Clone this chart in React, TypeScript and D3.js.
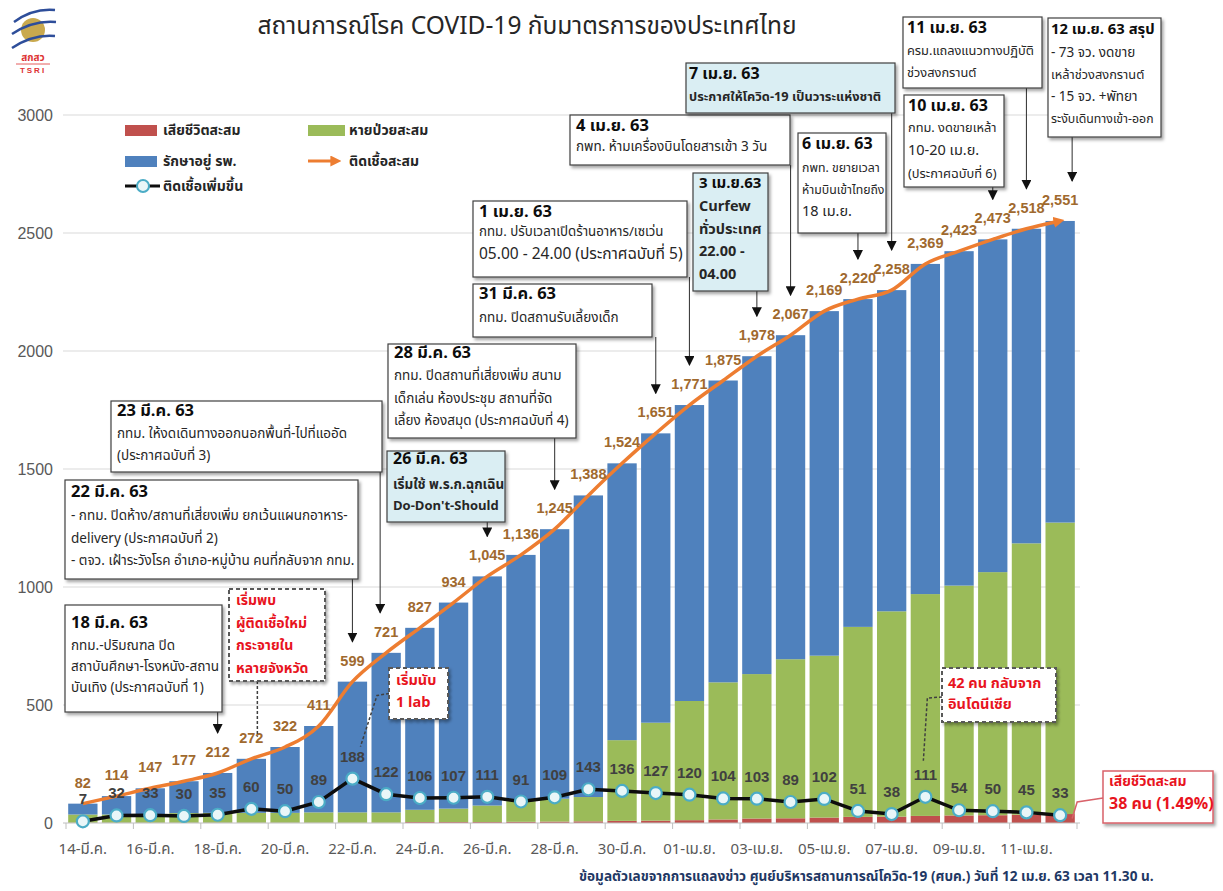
import React from 'react';
import * as d3 from 'd3';

const dates = [
  '14-มี.ค.', '15-มี.ค.', '16-มี.ค.', '17-มี.ค.', '18-มี.ค.', '19-มี.ค.', '20-มี.ค.', '21-มี.ค.',
  '22-มี.ค.', '23-มี.ค.', '24-มี.ค.', '25-มี.ค.', '26-มี.ค.', '27-มี.ค.', '28-มี.ค.', '29-มี.ค.',
  '30-มี.ค.', '31-มี.ค.', '01-เม.ย.', '02-เม.ย.', '03-เม.ย.', '04-เม.ย.', '05-เม.ย.', '06-เม.ย.',
  '07-เม.ย.', '08-เม.ย.', '09-เม.ย.', '10-เม.ย.', '11-เม.ย.', '12-เม.ย.',
];

// ติดเชื้อสะสม
const totalCases = [
  82, 114, 147, 177, 212, 272, 322, 411, 599, 721, 827, 934, 1045, 1136, 1245, 1388,
  1524, 1651, 1771, 1875, 1978, 2067, 2169, 2220, 2258, 2369, 2423, 2473, 2518, 2551,
];
// ติดเชื้อเพิ่มขึ้น
const newCases = [
  7, 32, 33, 30, 35, 60, 50, 89, 188, 122, 106, 107, 111, 91, 109, 143,
  136, 127, 120, 104, 103, 89, 102, 51, 38, 111, 54, 50, 45, 33,
];
// หายป่วยสะสม
const recovered = [
  35, 35, 36, 41, 42, 42, 42, 44, 44, 44, 52, 57, 70, 88, 97, 103,
  342, 415, 505, 581, 612, 674, 686, 805, 870, 940, 974, 1030, 1150, 1235,
];
// เสียชีวิตสะสม
const deaths = [
  1, 1, 1, 1, 1, 1, 1, 1, 1, 1, 4, 4, 4, 5, 6, 7,
  9, 10, 12, 15, 19, 20, 23, 26, 27, 30, 32, 33, 35, 38,
];

const yTicks = [0, 500, 1000, 1500, 2000, 2500, 3000];

const notes = [
  { date: '18-มี.ค.', title: '18 มี.ค. 63', lines: ['กทม.-ปริมณฑล ปิด', 'สถาบันศึกษา-โรงหนัง-สถาน', 'บันเทิง (ประกาศฉบับที่ 1)'] },
  { date: '22-มี.ค.', title: '22 มี.ค. 63', lines: ['- กทม. ปิดห้าง/สถานที่เสี่ยงเพิ่ม ยกเว้นแผนกอาหาร-', 'delivery (ประกาศฉบับที่ 2)', '- ตจว. เฝ้าระวังโรค อำเภอ-หมู่บ้าน คนที่กลับจาก กทม.'] },
  { date: '23-มี.ค.', title: '23 มี.ค. 63', lines: ['กทม. ให้งดเดินทางออกนอกพื้นที่-ไปที่แออัด', '(ประกาศฉบับที่ 3)'] },
  { date: '26-มี.ค.', title: '26 มี.ค. 63', lines: ['เริ่มใช้ พ.ร.ก.ฉุกเฉิน', "Do-Don't-Should"] },
  { date: '28-มี.ค.', title: '28 มี.ค. 63', lines: ['กทม. ปิดสถานที่เสี่ยงเพิ่ม สนาม', 'เด็กเล่น ห้องประชุม สถานที่จัด', 'เลี้ยง ห้องสมุด (ประกาศฉบับที่ 4)'] },
  { date: '31-มี.ค.', title: '31 มี.ค. 63', lines: ['กทม. ปิดสถานรับเลี้ยงเด็ก'] },
  { date: '01-เม.ย.', title: '1 เม.ย. 63', lines: ['กทม. ปรับเวลาเปิดร้านอาหาร/เซเว่น', '05.00 - 24.00 (ประกาศฉบับที่ 5)'] },
  { date: '03-เม.ย.', title: '3 เม.ย.63', lines: ['Curfew', 'ทั่วประเทศ', '22.00 -', '04.00'] },
  { date: '04-เม.ย.', title: '4 เม.ย. 63', lines: ['กพท. ห้ามเครื่องบินโดยสารเข้า 3 วัน'] },
  { date: '06-เม.ย.', title: '6 เม.ย. 63', lines: ['กพท. ขยายเวลา', 'ห้ามบินเข้าไทยถึง', '18 เม.ย.'] },
  { date: '07-เม.ย.', title: '7 เม.ย. 63', lines: ['ประกาศให้โควิด-19 เป็นวาระแห่งชาติ'] },
  { date: '10-เม.ย.', title: '10 เม.ย. 63', lines: ['กทม. งดขายเหล้า', '10-20 เม.ย.', '(ประกาศฉบับที่ 6)'] },
  { date: '11-เม.ย.', title: '11 เม.ย. 63', lines: ['ครม.แถลงแนวทางปฏิบัติ', 'ช่วงสงกรานต์'] },
  { date: '12-เม.ย.', title: '12 เม.ย. 63 สรุป', lines: ['- 73 จว. งดขาย', 'เหล้าช่วงสงกรานต์', '- 15 จว. +พัทยา', 'ระงับเดินทางเข้า-ออก'] },
];

const redNotes = [
  { date: '19-มี.ค.', lines: ['เริ่มพบ', 'ผู้ติดเชื้อใหม่', 'กระจายใน', 'หลายจังหวัด'] },
  { date: '22-มี.ค.', lines: ['เริ่มนับ', '1 lab'] },
  { date: '08-เม.ย.', lines: ['42 คน กลับจาก', 'อินโดนีเซีย'] },
];
const deathNote = ['เสียชีวิตสะสม', '38 คน (1.49%)'];

// box layout (same order as notes); bs = body font size (number or one per line)
const noteLayout: any[] = [
  { x: 65, y: 605, w: 157, h: 107, tb: 628, bb: 650, lh: 21, ts: 16.5, bs: 13.5 },
  { x: 65, y: 480, w: 293, h: 99, tb: 497, bb: 520, lh: 22.5, ts: 16.5, bs: 13.5 },
  { x: 111, y: 401, w: 271, h: 71, tb: 416, bb: 438, lh: 22, ts: 16.5, bs: 13.5, dx: -6 },
  { x: 387, y: 451, w: 118, h: 71, tb: 464, bb: 489, lh: 21, ts: 16, bs: [13.5, 13], blue: true, boldBody: true },
  { x: 388, y: 344, w: 188, h: 94, tb: 358, bb: 380, lh: 22.5, ts: 16.5, bs: 13.5 },
  { x: 473, y: 284, w: 179, h: 53, tb: 299, bb: 322, lh: 22, ts: 16.5, bs: 13.5 },
  { x: 473, y: 201, w: 214, h: 76, tb: 217, bb: 236, lh: 23, ts: 16.5, bs: [13.3, 15.5] },
  { x: 693, y: 173, w: 75, h: 118, tb: 188, bb: 211, lh: 22.5, ts: 15, bs: 14.5, blue: true, boldBody: true },
  { x: 570, y: 115, w: 220, h: 50, tb: 131, bb: 151, lh: 22, ts: 16.5, bs: 13.5 },
  { x: 798, y: 133, w: 88, h: 100, tb: 149, bb: 172, lh: 22, ts: 16, bs: [12.3, 12.3, 14.5], pad: 4 },
  { x: 686, y: 63, w: 209, h: 50, tb: 79, bb: 101, lh: 22, ts: 16, bs: 12.8, blue: true, boldBody: true, pad: 3 },
  { x: 904, y: 95, w: 100, h: 92, tb: 111, bb: 132, lh: 23, ts: 16, bs: [12.8, 14.5, 12.8], pad: 4 },
  { x: 903, y: 17, w: 139, h: 71, tb: 33, bb: 55, lh: 22, ts: 16, bs: 12.8, pad: 4 },
  { x: 1048, y: 18, w: 113, h: 119, tb: 34, bb: 57, lh: 22, ts: 14.8, bs: [13.5, 12.8, 13.5, 12.3], dx: 12, pad: 3 },
];
const redLayout = [
  { x: 229, y: 589, w: 96, h: 92, tx: 236, tb: 605, lh: 22.5, fs: 14 },
  { x: 389, y: 668, w: 59, h: 51, tx: 396, tb: 685, lh: 22, fs: 14.5 },
  { x: 942, y: 668, w: 114, h: 54, tx: 948, tb: 688, lh: 21, fs: 14.5 },
];

const FONT = "Tahoma, 'Leelawadee UI', 'Noto Sans Thai', 'Liberation Sans', Arial, sans-serif";
const LATIN = "'Liberation Sans', Arial, sans-serif";
const RED = '#e8141e';

const x = d3.scaleBand<string>().domain(dates).range([66, 1077]).paddingInner(0.13).paddingOuter(0.065);
const y = d3.scaleLinear().domain([0, 3000]).range([823, 115]);
const cx = (d: string) => (x(d) ?? 0) + x.bandwidth() / 2;
const idx = (d: string) => dates.indexOf(d);

const rows = dates.map((d, i) => ({
  date: d,
  deaths: deaths[i],
  recovered: recovered[i],
  active: totalCases[i] - recovered[i] - deaths[i],
}));
const series = d3.stack<any>().keys(['deaths', 'recovered', 'active'])(rows);
const barColors: Record<string, string> = { deaths: '#c0504d', recovered: '#9bbb59', active: '#4f81bd' };

const totalPath = d3.line<number>().x((_, i) => cx(dates[i])).y(v => y(v)).curve(d3.curveMonotoneX)(totalCases) ?? '';
const newPath = d3.line<number>().x((_, i) => cx(dates[i])).y(v => y(v))(newCases) ?? '';

const App = () => {
  const step = x.step();
  const x0 = x.range()[0];
  return (
    <svg width={1223} height={891} style={{ position: 'absolute', left: 0, top: 0, background: '#fff' }} fontFamily={FONT}>
      <defs>
        <marker id="arrBlack" viewBox="0 0 10 10" refX="9" refY="5" markerWidth="10" markerHeight="10" markerUnits="userSpaceOnUse" orient="auto">
          <path d="M0,0 L10,5 L0,10 z" fill="#111" />
        </marker>
        <marker id="arrOrange" viewBox="0 0 10 10" refX="6" refY="5" markerWidth="11" markerHeight="11" markerUnits="userSpaceOnUse" orient="auto">
          <path d="M0,0 L10,5 L0,10 z" fill="#ed7d31" />
        </marker>
        <filter id="shadow" x="-10%" y="-10%" width="130%" height="140%">
          <feDropShadow dx="2" dy="2.5" stdDeviation="1.5" floodColor="#000" floodOpacity="0.35" />
        </filter>
      </defs>

      {/* logo */}
      <g>
        <circle cx={33} cy={30} r={12} fill="#c9a94e" />
        <path d="M14,22 Q33,8 55,10" stroke="#2e4e9a" strokeWidth={2.5} fill="none" />
        <path d="M12,34 Q33,20 56,22" stroke="#2e4e9a" strokeWidth={2.5} fill="none" />
        <path d="M12,48 Q33,34 55,36" stroke="#2e4e9a" strokeWidth={2.5} fill="none" />
        <text x={33} y={61} textAnchor="middle" fontSize={10} fill="#d33" fontWeight="bold">สกสว</text>
        <line x1={16} y1={64} x2={50} y2={64} stroke="#d33" strokeWidth={0.8} />
        <text x={33} y={73} textAnchor="middle" fontSize={8} fill="#d33" fontFamily={LATIN} fontWeight="bold" letterSpacing={2}>TSRI</text>
      </g>

      <text x={527} y={34} textAnchor="middle" fontSize={24.5} fill="#262626">สถานการณ์โรค COVID-19 กับมาตรการของประเทศไทย</text>

      {/* gridlines + y labels */}
      {yTicks.map(t => (
        <g key={t}>
          {t > 0 && <line x1={63} x2={1080} y1={y(t)} y2={y(t)} stroke="#d9d9d9" strokeWidth={1} />}
          <text x={53} y={y(t) + 6} textAnchor="end" fontSize={16} fill="#595959" fontFamily={LATIN}>{t}</text>
        </g>
      ))}

      {/* stacked bars */}
      {series.map(s => (
        <g key={s.key} fill={barColors[s.key]}>
          {s.map((d, i) => (
            <rect key={i} x={x(dates[i])} width={x.bandwidth()} y={y(d[1])} height={Math.max(0, y(d[0]) - y(d[1]))} />
          ))}
        </g>
      ))}

      {/* x axis */}
      <line x1={63} x2={1080} y1={823} y2={823} stroke="#bfbfbf" />
      {dates.map((d, i) => i % 2 === 0 ? (
        <g key={d}>
          <line x1={x0 + i * step} x2={x0 + i * step} y1={823} y2={829} stroke="#bfbfbf" />
          <text x={cx(d)} y={854} textAnchor="middle" fontSize={15} fill="#595959">{d}</text>
        </g>
      ) : null)}
      <line x1={x0 + 30 * step} x2={x0 + 30 * step} y1={823} y2={829} stroke="#bfbfbf" />

      {/* cumulative line */}
      <path d={totalPath} fill="none" stroke="#ed7d31" strokeWidth={3.5} markerEnd="url(#arrOrange)" />
      {totalCases.map((v, i) => (
        <text key={i} x={cx(dates[i])} y={y(v) - 16} textAnchor="middle" fontSize={14.5} fontWeight="bold" fill="#a0692e" fontFamily={LATIN}>
          {d3.format(',')(v)}
        </text>
      ))}

      {/* new cases line */}
      <path d={newPath} fill="none" stroke="#0d0d0d" strokeWidth={3.5} />
      {newCases.map((v, i) => (
        <g key={i}>
          <circle cx={cx(dates[i])} cy={y(v)} r={6} fill="#e9f6f8" stroke="#4bacc6" strokeWidth={2.2} />
          <text x={cx(dates[i])} y={y(v) - 17} textAnchor="middle" fontSize={15} fontWeight="bold" fill="#404040" fontFamily={LATIN}>{v}</text>
        </g>
      ))}

      {/* legend */}
      <g fontSize={14} fontWeight="bold" fill="#262626">
        <rect x={125} y={125} width={32} height={11} fill="#c0504d" />
        <text x={163} y={135}>เสียชีวิตสะสม</text>
        <rect x={308} y={125} width={37} height={11} fill="#9bbb59" />
        <text x={349} y={135}>หายป่วยสะสม</text>
        <rect x={125} y={156} width={32} height={11} fill="#4f81bd" />
        <text x={163} y={166}>รักษาอยู่ รพ.</text>
        <line x1={308} x2={337} y1={161} y2={161} stroke="#ed7d31" strokeWidth={3} markerEnd="url(#arrOrange)" />
        <text x={349} y={166}>ติดเชื้อสะสม</text>
        <line x1={125} x2={160} y1={186} y2={186} stroke="#0d0d0d" strokeWidth={3} />
        <circle cx={143} cy={186} r={6} fill="#e9f6f8" stroke="#4bacc6" strokeWidth={2} />
        <text x={163} y={191}>ติดเชื้อเพิ่มขึ้น</text>
      </g>

      {/* annotation boxes */}
      {notes.map((n, k) => {
        const b = noteLayout[k];
        const ax = cx(n.date) + (b.dx ?? 0);
        const tip = y(totalCases[idx(n.date)]) - 40;
        const pad = b.pad ?? 6;
        return (
          <g key={n.date}>
            <line x1={ax} x2={ax} y1={b.y + b.h} y2={tip} stroke="#404040" strokeWidth={1.1} markerEnd="url(#arrBlack)" />
            <rect x={b.x} y={b.y} width={b.w} height={b.h} fill={b.blue ? '#daeef3' : '#fff'} stroke="#404040" strokeWidth={1.2} filter="url(#shadow)" />
            <text x={b.x + pad} y={b.tb} fontSize={b.ts} fontWeight="bold" fill="#0d0d0d">{n.title}</text>
            {n.lines.map((l, j) => (
              <text key={j} x={b.x + pad} y={b.bb + j * b.lh} fontSize={Array.isArray(b.bs) ? b.bs[j] : b.bs}
                fontWeight={b.boldBody ? 'bold' : 'normal'} fill="#262626">{l}</text>
            ))}
          </g>
        );
      })}

      {/* red dashed notes */}
      {redNotes.map((n, k) => {
        const b = redLayout[k];
        const i = idx(n.date);
        const px = cx(n.date);
        let conn = '';
        if (k === 0) conn = `M${px + 6},${b.y + b.h} L${px + 6},${y(totalCases[i]) - 22}`;
        if (k === 1) conn = `M${b.x},${b.y + b.h / 2} L${b.x - 12},${b.y + b.h / 2 + 2} L${px + 8},${y(newCases[i]) - 32}`;
        if (k === 2) conn = `M${b.x},${b.y + 29} L${px + 2},${b.y + 30} L${px - 2},${y(newCases[i]) - 36}`;
        return (
          <g key={k}>
            <path d={conn} fill="none" stroke="#404040" strokeWidth={1.5} strokeDasharray="3,2" />
            <rect x={b.x} y={b.y} width={b.w} height={b.h} fill="#fff" stroke="#595959" strokeWidth={2} strokeDasharray="4,3" filter="url(#shadow)" />
            {n.lines.map((l, j) => (
              <text key={j} x={b.tx} y={b.tb + j * b.lh} fontSize={b.fs} fontWeight="bold" fill={RED}>{l}</text>
            ))}
          </g>
        );
      })}

      {/* death summary */}
      {(() => {
        const last = dates[dates.length - 1];
        const px = cx(last);
        return (
          <g>
            <path d={`M${px + 12},${y(deaths[29] / 2)} L${px + 17},${802} L1103,798`} fill="none" stroke="#d9626a" strokeWidth={1.5} />
            <rect x={1103} y={771} width={110} height={52} fill="#fff" stroke="#d9626a" strokeWidth={1.5} filter="url(#shadow)" />
            <text x={1109} y={786} fontSize={14} fontWeight="bold" fill={RED}>{deathNote[0]}</text>
            <text x={1109} y={809} fontSize={16} fontWeight="bold" fill={RED}>{deathNote[1]}</text>
          </g>
        );
      })()}

      <text x={579} y={881} fontSize={13.6} fontWeight="bold" fill="#1f3864">
        ข้อมูลตัวเลขจากการแถลงข่าว ศูนย์บริหารสถานการณ์โควิด-19 (ศบค.) วันที่ 12 เม.ย. 63 เวลา 11.30 น.
      </text>
    </svg>
  );
};

export default App;
